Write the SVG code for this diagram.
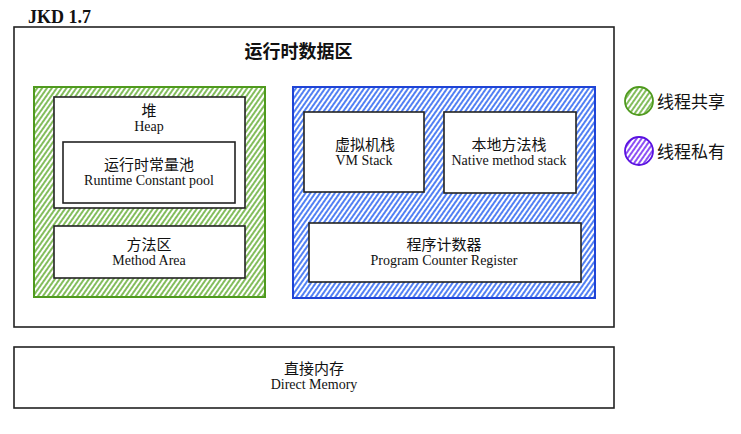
<svg xmlns="http://www.w3.org/2000/svg" width="741" height="434" viewBox="0 0 741 434">
<defs>
<pattern id="hg" patternUnits="userSpaceOnUse" width="4" height="10" patternTransform="rotate(35)"><line x1="1" y1="0" x2="1" y2="10" stroke="#64ad34" stroke-width="1.6"/></pattern>
<pattern id="hb" patternUnits="userSpaceOnUse" width="4" height="10" patternTransform="rotate(35)"><line x1="1" y1="0" x2="1" y2="10" stroke="#2660f0" stroke-width="1.6"/></pattern>
<pattern id="hp" patternUnits="userSpaceOnUse" width="4" height="10" patternTransform="rotate(35)"><line x1="1" y1="0" x2="1" y2="10" stroke="#7024f2" stroke-width="1.6"/></pattern>
</defs>
<style>
.box{fill:#fff;stroke:#222;stroke-width:1.6}
.zh{font-family:"Noto Sans CJK SC","Noto Sans",sans-serif;font-size:15px;fill:#111;text-anchor:middle}
.en{font-family:"Liberation Serif",serif;font-size:14px;fill:#111;text-anchor:middle}
.lg{font-family:"Noto Sans CJK SC","Noto Sans",sans-serif;font-size:17px;fill:#111}
</style>
<rect width="741" height="434" fill="#fff"/>
<text x="28" y="23" font-family="Liberation Serif,serif" font-size="18" font-weight="bold" fill="#111">JKD 1.7</text>
<g id="runtime-area">
<rect class="box" x="14" y="27" width="600" height="300"/>
<text x="298.5" y="58" font-family="Noto Sans CJK SC,sans-serif" font-size="18" font-weight="bold" text-anchor="middle" fill="#111">运行时数据区</text>
</g>
<g id="shared">
<rect x="34" y="87" width="231" height="210" fill="url(#hg)" stroke="#4f9a1e" stroke-width="2"/>
</g>
<g id="heap">
<rect class="box" x="54" y="97" width="191" height="111"/>
<text class="zh" x="149" y="116">堆</text>
<text class="en" x="149" y="131">Heap</text>
</g>
<g id="constant-pool">
<rect class="box" x="63" y="142" width="172" height="61"/>
<text class="zh" x="149" y="170">运行时常量池</text>
<text class="en" x="149" y="185">Runtime Constant pool</text>
</g>
<g id="method-area">
<rect class="box" x="54" y="226" width="191" height="52"/>
<text class="zh" x="149" y="250">方法区</text>
<text class="en" x="149" y="265">Method Area</text>
</g>
<g id="private">
<rect x="293" y="87" width="302" height="211" fill="url(#hb)" stroke="#1f44d6" stroke-width="2"/>
</g>
<g id="vm-stack">
<rect class="box" x="304" y="112" width="120" height="80"/>
<text class="zh" x="365" y="150">虚拟机栈</text>
<text class="en" x="364" y="165">VM Stack</text>
</g>
<g id="native-stack">
<rect class="box" x="444" y="112" width="132" height="81"/>
<text class="zh" x="509" y="150">本地方法栈</text>
<text class="en" x="509" y="165">Native method stack</text>
</g>
<g id="pc-register">
<rect class="box" x="309" y="223" width="272" height="59"/>
<text class="zh" x="444" y="250">程序计数器</text>
<text class="en" x="444" y="265">Program Counter Register</text>
</g>
<g id="direct-memory">
<rect class="box" x="14" y="347" width="600" height="61"/>
<text class="zh" x="314" y="374">直接内存</text>
<text class="en" x="314" y="389">Direct Memory</text>
</g>
<g id="legend-shared">
<circle cx="639" cy="101" r="14" fill="url(#hg)" stroke="#4f9a1e" stroke-width="1.8"/>
<text class="lg" x="657" y="108">线程共享</text>
</g>
<g id="legend-private">
<circle cx="639" cy="151" r="14" fill="url(#hp)" stroke="#5a12e0" stroke-width="1.8"/>
<text class="lg" x="657" y="158">线程私有</text>
</g>
<g id="connectors"/>
</svg>
